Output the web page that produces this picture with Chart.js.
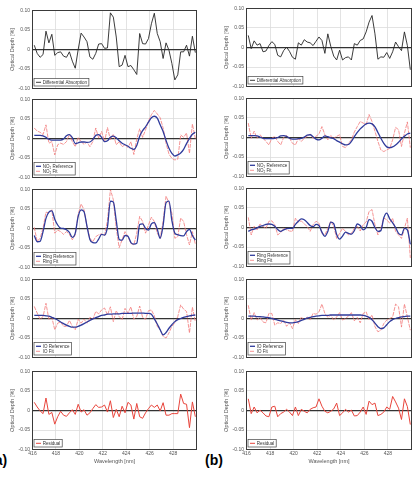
<!DOCTYPE html>
<html><head><meta charset="utf-8">
<script src="https://cdn.jsdelivr.net/npm/chart.js@4.4.1/dist/chart.umd.min.js"></script>
<style>
html,body{margin:0;padding:0;background:#fff;width:420px;height:478px;overflow:hidden;position:relative}
canvas{position:absolute}
.lab{position:absolute;font:bold 14px "Liberation Sans",Arial,sans-serif;color:#000;line-height:14px;white-space:nowrap}
</style></head><body>
<div class="lab" style="left:-10px;top:453px">(a)</div>
<div class="lab" style="left:205px;top:453px">(b)</div>
<script>
// ---------- shared axes ----------
const wl = [416.15,416.40,416.65,416.90,417.15,417.40,417.65,417.90,418.15,418.40,
  418.65,418.90,419.15,419.40,419.65,419.90,420.15,420.40,420.65,420.90,
  421.15,421.40,421.65,421.90,422.15,422.40,422.65,422.90,423.15,423.40,
  423.65,423.90,424.15,424.40,424.65,424.90,425.15,425.40,425.65,425.90,
  426.15,426.40,426.65,426.90,427.15,427.40,427.65,427.90,428.15,428.40,
  428.65,428.90,429.15,429.40,429.65,429.90];
const xTicks = [416,418,420,422,424,426,428];
const yTicks = [-0.10,-0.05,0,0.05,0.10];
const yTickLabels = ['-0.10','-0.05','0','0.05','0.10'];

// ---------- panel (a) ----------
const aDiff = [0.011,-0.010,-0.020,-0.013,0.047,0.017,0.039,-0.015,-0.008,-0.006,
  -0.017,-0.020,-0.006,-0.030,-0.048,0.000,0.042,0.032,0.020,-0.019,
  -0.025,-0.010,0.014,0.015,0.003,0.004,0.094,0.083,0.032,-0.044,
  -0.040,-0.015,-0.044,-0.041,-0.052,-0.064,0.041,0.015,0.014,0.028,
  0.066,0.093,0.041,0.020,-0.023,0.017,-0.002,-0.036,-0.078,-0.065,
  -0.006,-0.006,0.011,-0.017,0.034,-0.008];
const aNO2Ref = [0.008,0.008,0.008,0.007,0.003,-0.002,-0.004,-0.004,-0.004,-0.004,
  -0.001,0.007,0.010,0.002,-0.013,-0.011,-0.009,-0.009,-0.010,-0.009,
  -0.003,0.008,0.010,0.003,-0.008,-0.006,0.003,0.006,0.002,-0.006,
  -0.012,-0.016,-0.020,-0.025,-0.028,-0.018,0.006,0.020,0.030,0.042,
  0.053,0.057,0.052,0.035,0.018,-0.005,-0.025,-0.038,-0.045,-0.042,
  -0.037,-0.028,-0.013,0.000,0.011,0.016];
const aNO2Fit = [0.027,0.019,0.016,0.010,0.035,-0.012,-0.008,-0.042,-0.016,-0.012,
  -0.015,-0.008,0.011,-0.008,-0.021,0.003,-0.008,-0.015,-0.009,-0.021,
  -0.008,0.027,0.001,0.018,-0.008,0.028,-0.003,0.011,-0.016,-0.008,
  -0.021,-0.016,-0.023,-0.008,-0.041,-0.001,0.025,0.003,0.022,0.044,
  0.061,0.072,0.063,0.053,0.027,-0.012,-0.040,-0.051,-0.055,-0.053,
  0.009,0.003,0.014,-0.038,0.037,0.000];
const aRingRef = [-0.018,-0.034,-0.033,-0.008,0.026,0.042,0.045,0.024,0.009,0.001,
  0.000,-0.003,-0.010,-0.023,-0.012,0.031,0.048,0.043,0.006,-0.028,
  -0.036,-0.037,-0.027,-0.015,-0.017,0.004,0.070,0.068,0.020,-0.028,
  -0.030,-0.018,-0.020,-0.036,-0.040,-0.038,0.010,0.012,0.000,-0.004,
  0.012,0.015,-0.002,-0.025,0.008,0.066,0.070,0.020,-0.012,-0.016,
  -0.018,-0.019,-0.008,-0.002,-0.018,-0.030];
const aRingFit = [0.003,-0.033,-0.025,0.001,0.042,0.040,0.048,-0.012,-0.004,-0.008,
  -0.015,-0.008,-0.015,-0.029,-0.016,0.036,0.063,0.048,0.005,-0.025,
  -0.034,-0.021,-0.016,-0.014,-0.018,0.020,0.100,0.074,0.000,-0.049,
  -0.029,-0.008,-0.021,-0.038,-0.042,-0.012,0.031,0.018,-0.012,0.009,
  0.029,0.018,-0.012,-0.025,0.018,0.083,0.066,0.039,-0.025,-0.021,
  0.027,0.018,-0.016,-0.042,-0.008,-0.040];
const aIORef = [0.008,0.008,0.008,0.008,0.007,0.006,0.003,0.000,-0.004,-0.009,
  -0.013,-0.017,-0.020,-0.022,-0.022,-0.020,-0.017,-0.013,-0.009,-0.005,
  -0.001,0.002,0.005,0.008,0.009,0.011,0.011,0.012,0.012,0.012,
  0.013,0.013,0.013,0.013,0.014,0.014,0.014,0.014,0.013,0.013,
  0.011,-0.001,-0.014,-0.029,-0.042,-0.036,-0.025,-0.016,-0.008,-0.003,
  0.000,0.003,0.005,0.007,0.008,0.009];
const aIOFit = [0.031,0.014,-0.002,0.005,0.039,-0.002,0.003,-0.029,-0.012,-0.009,
  -0.020,-0.020,-0.005,-0.020,-0.029,-0.002,-0.012,-0.002,-0.012,0.003,
  -0.002,0.018,0.012,0.022,0.027,0.009,0.030,-0.008,0.020,0.005,
  -0.003,0.026,0.014,0.030,-0.002,0.005,0.032,0.003,-0.002,0.020,
  0.022,0.007,-0.020,-0.029,-0.046,-0.050,-0.037,-0.020,-0.012,0.005,
  0.035,0.024,0.018,-0.037,0.029,-0.008];
const aResid = [0.021,0.009,-0.001,-0.008,0.032,-0.010,-0.005,-0.035,-0.016,-0.002,
  -0.012,-0.015,-0.006,0.002,-0.010,0.016,-0.004,0.002,-0.012,-0.006,
  0.005,0.015,0.008,0.009,0.014,-0.004,0.025,-0.018,0.003,-0.016,
  0.011,-0.006,0.021,0.014,-0.022,0.018,-0.016,-0.020,-0.006,0.005,
  0.014,0.008,0.014,-0.001,0.020,-0.012,-0.012,-0.008,-0.008,-0.008,
  0.042,0.018,0.016,-0.044,0.022,-0.016];

// ---------- panel (b) ----------
const bDiff = [0.031,-0.003,0.017,0.006,0.010,-0.011,-0.009,0.005,0.015,0.008,
  -0.020,-0.024,-0.008,0.001,-0.010,-0.025,-0.030,0.012,0.006,0.020,
  0.014,0.012,0.005,0.016,0.027,0.018,-0.015,0.035,0.003,-0.022,
  -0.032,-0.007,-0.032,-0.026,-0.024,-0.032,0.010,0.006,0.018,0.022,
  0.040,0.065,0.082,0.035,-0.030,-0.024,-0.025,-0.013,-0.028,-0.011,
  0.014,0.002,-0.008,0.040,0.005,-0.057];
const bNO2Ref = [0.005,0.005,0.005,0.004,0.001,-0.002,-0.003,-0.003,-0.003,-0.002,
  0.000,0.004,0.005,0.003,-0.002,-0.004,-0.004,-0.003,-0.002,0.001,
  0.006,0.007,0.002,-0.004,-0.006,-0.002,0.004,0.002,-0.001,-0.003,
  -0.008,-0.012,-0.016,-0.019,-0.018,-0.010,0.002,0.013,0.022,0.029,
  0.035,0.037,0.035,0.027,0.013,-0.002,-0.015,-0.024,-0.026,-0.024,
  -0.019,-0.012,-0.004,0.003,0.009,0.011];
const bNO2Fit = [0.037,-0.002,0.016,-0.002,0.007,-0.002,-0.010,-0.019,-0.002,0.003,
  -0.010,-0.019,0.000,0.005,-0.002,-0.015,-0.019,-0.003,-0.010,-0.002,
  0.003,0.009,-0.002,0.003,0.009,0.028,0.007,-0.006,0.005,-0.002,
  0.003,0.007,-0.023,-0.026,-0.015,-0.006,0.014,0.028,0.041,0.037,
  0.033,0.059,0.041,0.016,-0.010,-0.032,-0.036,-0.032,-0.028,-0.006,
  0.026,0.020,-0.023,0.011,0.040,-0.026];
const bRingRef = [-0.010,-0.006,-0.004,-0.001,0.003,0.005,0.008,0.009,0.008,0.003,
  -0.005,-0.010,-0.006,-0.003,-0.002,-0.002,0.008,0.016,0.022,0.020,
  0.013,0.005,0.002,0.008,0.005,-0.012,-0.023,-0.010,0.014,0.010,
  -0.018,-0.030,-0.022,-0.012,-0.015,-0.017,-0.008,0.009,0.005,-0.006,
  0.000,0.020,0.016,0.000,-0.010,-0.008,0.025,0.037,0.022,0.012,
  0.000,-0.015,-0.019,-0.002,-0.006,-0.043];
const bRingFit = [0.026,-0.019,0.003,-0.006,0.009,0.003,-0.002,0.016,0.017,0.007,
  -0.019,-0.013,-0.002,-0.006,-0.009,-0.010,0.024,0.014,0.017,0.009,
  0.003,-0.010,0.007,0.016,0.011,-0.015,-0.019,-0.002,0.016,0.003,
  -0.028,-0.015,-0.002,-0.010,-0.019,-0.015,-0.002,0.003,-0.009,0.007,
  0.014,0.041,0.046,0.007,-0.019,-0.002,0.024,0.020,0.011,0.024,
  -0.010,-0.019,-0.028,-0.002,0.024,-0.078];
const bIORef = [0.006,0.006,0.006,0.005,0.005,0.004,0.003,0.002,0.000,-0.002,
  -0.004,-0.006,-0.008,-0.010,-0.011,-0.011,-0.010,-0.008,-0.005,-0.002,
  0.001,0.003,0.005,0.006,0.007,0.008,0.008,0.008,0.009,0.009,
  0.009,0.009,0.009,0.009,0.009,0.009,0.009,0.009,0.009,0.008,
  0.006,0.003,-0.003,-0.012,-0.021,-0.026,-0.024,-0.016,-0.008,-0.003,
  0.000,0.002,0.004,0.005,0.006,0.006];
const bIOFit = [0.034,-0.004,0.015,-0.004,0.003,-0.009,-0.011,0.013,0.013,-0.017,
  -0.011,-0.013,-0.004,-0.020,-0.011,-0.026,-0.003,-0.013,0.004,-0.004,
  0.004,-0.003,0.013,0.011,0.017,0.037,0.013,0.003,0.009,-0.004,
  0.004,0.015,-0.004,0.000,0.006,0.015,-0.006,0.003,-0.011,0.013,
  0.017,-0.003,0.009,-0.021,-0.034,-0.030,-0.013,-0.004,0.000,0.004,
  0.037,0.030,-0.022,0.037,0.004,-0.030];
const bResid = [0.030,-0.008,0.009,-0.006,0.001,-0.006,-0.014,-0.016,0.009,0.011,
  -0.016,-0.008,-0.004,0.003,-0.004,-0.013,0.009,-0.013,0.003,-0.002,
  -0.006,0.003,0.007,0.009,0.030,0.011,-0.002,-0.006,-0.002,0.004,
  0.019,-0.013,-0.006,0.003,-0.004,0.001,-0.014,-0.013,-0.004,0.009,
  -0.010,0.024,0.015,0.019,-0.013,-0.010,-0.004,0.009,0.003,0.036,
  0.022,0.006,-0.023,0.030,0.010,-0.036];

// ---------- styling ----------
const FAM = "'Liberation Sans', Arial, Helvetica, sans-serif";
const STY = {
  diff: {color:'#262626', width:0.9},
  ref:  {color:'#2f3b9c', width:1.3, smooth:true},
  fit:  {color:'#f27a7a', width:0.8, dash:[4,1]},
  res:  {color:'#e8453c', width:1}
};
function rowsFor(d, n, r, ring, rf, io, iof, res){
  return [
    [{label:'Differential Absorption', v:d, k:'diff'}],
    [{label:'NO\u2082 Reference', v:n, k:'ref'},{label:'NO\u2082 Fit', v:r, k:'fit'}],
    [{label:'Ring Reference', v:ring, k:'ref'},{label:'Ring Fit', v:rf, k:'fit'}],
    [{label:'IO Reference', v:io, k:'ref'},{label:'IO Fit', v:iof, k:'fit'}],
    [{label:'Residual', v:res, k:'res'}]
  ];
}
const cols = [
  {left:0, padR:3.5, tops:[10.5,99.5,189.5,279.5,371.5],
   rows: rowsFor(aDiff,aNO2Ref,aNO2Fit,aRingRef,aRingFit,aIORef,aIOFit,aResid)},
  {left:214, padR:2.5, tops:[8.5,98.5,188.5,279.5,371.5],
   rows: rowsFor(bDiff,bNO2Ref,bNO2Fit,bRingRef,bRingFit,bIORef,bIOFit,bResid)}
];

const frame = {
  id:'frame',
  afterDatasetsDraw(chart){
    const {ctx, chartArea:a} = chart;
    ctx.save(); ctx.strokeStyle='#3a3a3a'; ctx.lineWidth=1;
    ctx.strokeRect(a.left, a.top, a.right-a.left, a.bottom-a.top);
    ctx.restore();
  }
};
const boxLegend = {
  id:'boxLegend',
  afterDraw(chart){
    const {ctx, chartArea:a} = chart;
    const ds = chart.data.datasets;
    const fs = 4.5, rowH = 5, pad = 1.2;
    ctx.save();
    ctx.font = fs + 'px ' + FAM;
    const tw = Math.max(...ds.map(d => ctx.measureText(d.label).width));
    const w = 8.7 + tw + 2, h = ds.length*rowH + 2*pad;
    const x0 = a.left + 1.5, y0 = a.bottom - 2.5 - h;
    ctx.fillStyle='#fff'; ctx.fillRect(x0,y0,w,h);
    ctx.strokeStyle='#444'; ctx.lineWidth=0.7; ctx.strokeRect(x0,y0,w,h);
    ds.forEach((d,i) => {
      const cy = y0 + pad + rowH*(i+0.5);
      ctx.strokeStyle=d.borderColor; ctx.lineWidth=d.borderWidth;
      ctx.setLineDash(d.borderDash||[]);
      ctx.beginPath(); ctx.moveTo(x0+2,cy); ctx.lineTo(x0+7,cy); ctx.stroke();
      ctx.setLineDash([]);
      ctx.fillStyle='#333'; ctx.textBaseline='middle'; ctx.textAlign='left';
      ctx.fillText(d.label, x0+8.7, cy+0.2);
    });
    ctx.restore();
  }
};

function makePanel(ci, ri){
  const C = cols[ci], last = ri === 4, top = C.tops[ri];
  const H = last ? 102 : 91;
  const cv = document.createElement('canvas');
  cv.width = 200; cv.height = H;
  cv.style.left = C.left+'px'; cv.style.top = (top-6.5)+'px';
  cv.style.width = '200px'; cv.style.height = H+'px';
  document.body.appendChild(cv);
  const series = C.rows[ri];
  new Chart(cv, {
    type:'line',
    data:{datasets: series.map(s => {
      const st = STY[s.k];
      return {
        label:s.label,
        data: wl.map((x,i) => ({x, y:s.v[i]})),
        borderColor:st.color, borderWidth:st.width, borderDash:st.dash||[],
        pointRadius:0, fill:false,
        cubicInterpolationMode: st.smooth ? 'monotone' : 'default', tension:0
      };
    })},
    options:{
      responsive:false, animation:false, devicePixelRatio:1,
      layout:{padding:{left:0, right:C.padR, top:6.5, bottom: last ? 2.5 : 6.5}},
      plugins:{legend:{display:false}, tooltip:{enabled:false}},
      scales:{
        x:{type:'linear', min:416, max:430,
          afterBuildTicks: s => { s.ticks = xTicks.map(v => ({value:v})); },
          afterFit: s => { s.height = last ? 15 : 0; },
          grid:{color:'#dcdcdc', lineWidth:0.8, drawTicks:false},
          border:{display:false},
          ticks:{display:last, padding:1.5, font:{size:5, family:FAM}, color:'#555',
                 maxRotation:0, autoSkip:false, callback: v => String(v)},
          title:{display:last, text:'Wavelength [nm]', font:{size:5.5, family:FAM}, color:'#555', padding:0}
        },
        y:{min:-0.1, max:0.1,
          afterBuildTicks: s => { s.ticks = yTicks.map(v => ({value:v})); },
          afterFit: s => { s.width = 32.5; },
          grid:{drawTicks:false,
            color: c => (c.tick && c.tick.value === 0) ? '#333333' : '#dcdcdc',
            lineWidth: c => (c.tick && c.tick.value === 0) ? 1.3 : 0.8},
          border:{display:false},
          ticks:{padding:2.5, font:{size:5, family:FAM}, color:'#555',
                 callback: (v,i) => yTickLabels[i]},
          title:{display:true, text:'Optical Depth [%]', font:{size:5.5, family:FAM}, color:'#555',
                 padding:{top:8.9, bottom:0}}
        }
      }
    },
    plugins:[frame, boxLegend]
  });
}
for (let c=0;c<2;c++) for (let r=0;r<5;r++) makePanel(c,r);
</script>
</body></html>
